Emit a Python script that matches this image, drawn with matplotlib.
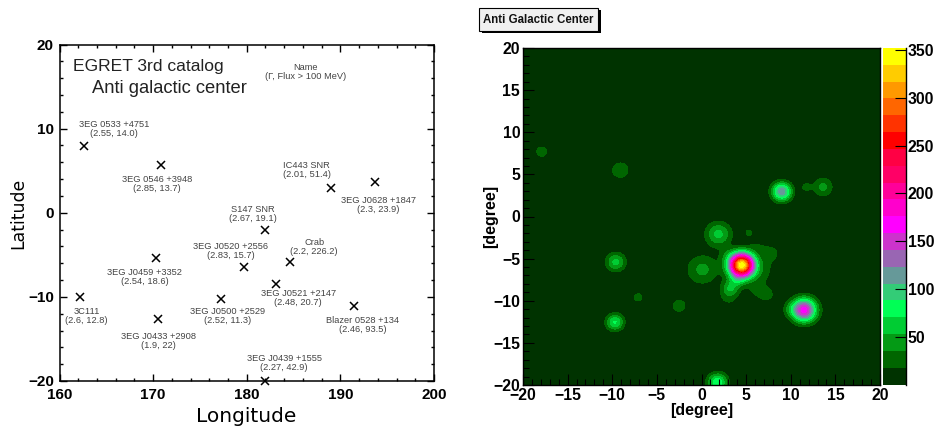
import numpy as np
import matplotlib
matplotlib.use("Agg")
import matplotlib.pyplot as plt
from matplotlib.patches import Rectangle
from matplotlib.ticker import MultipleLocator
from matplotlib.colors import ListedColormap, BoundaryNorm

W, H = 936, 428

# catalog points
names = ["3EG 0533 +4751", "3EG 0546 +3948", "IC443 SNR", "3EG J0628 +1847", "S147 SNR",
         "3EG J0520 +2556", "Crab", "3EG J0459 +3352", "3EG J0521 +2147", "3C111",
         "3EG J0500 +2529", "3EG J0433 +2908", "Blazer 0528 +134", "3EG J0439 +1555"]
params = ["(2.55, 14.0)", "(2.85, 13.7)", "(2.01, 51.4)", "(2.3, 23.9)", "(2.67, 19.1)",
          "(2.83, 15.7)", "(2.2, 226.2)", "(2.54, 18.6)", "(2.48, 20.7)", "(2.6, 12.8)",
          "(2.52, 11.3)", "(1.9, 22)", "(2.46, 93.5)", "(2.27, 42.9)"]
lon = [162.6, 170.8, 189.0, 193.7, 182.0, 179.7, 184.6, 170.3, 183.1, 162.2, 177.2, 170.5, 191.5, 182.0]
lat = [7.9, 5.7, 3.0, 3.6, -2.0, -6.4, -5.9, -5.4, -8.45, -10.0, -10.3, -12.6, -11.1, -20.0]
label_lon = [165.8, 170.4, 186.4, 194.06, 180.7, 178.3, 187.2, 169.06, 185.5, 162.9, 177.9, 170.6, 192.4, 184.0]
label_lat = [9.9, 3.45, 5.05, 0.93, -0.1, -4.5, -4.1, -7.6, -10.1, -12.3, -12.3, -15.2, -13.4, -17.9]

# map sources: centre, peak, width
src_x = [4.5, 3.2, 4.0, 1.9, 0.1, 11.5, 10.0, 9.0, 13.6, 11.7, -9.6, -9.7, -7.1, -2.5, -9.1, -17.9, -18.0, 1.8,
         7.9, 7.4, 5.3, 6.3, 6.2, 6.3, 3.0, 2.8, 7.0]
src_y = [-5.76, -8.5, -7.5, -2.1, -6.3, -11.1, -11.0, 2.95, 3.5, 3.5, -5.4, -12.55, -9.6, -10.6, 5.5, 7.7, -10.3, -19.7,
         -4.3, -9.3, -1.9, -7.5, -9.0, -3.5, -9.7, -4.5, -6.0]
src_peak = [345, 45, 30, 58, 40, 165, 20, 118, 40, 22, 58, 72, 19, 30, 32, 24, 18, 85,
            20, 20, 20, 14, 12, 14, 18, 14, 14]
src_sig = [0.95, 0.65, 0.6, 1.0, 1.25, 0.95, 0.6, 0.75, 0.8, 0.45, 0.76, 0.68, 1.1, 0.63, 0.78, 0.7, 0.2, 0.76,
           0.8, 0.6, 0.5, 1.2, 0.9, 0.8, 0.9, 0.6, 1.0]

band_colors = ["#003300", "#006600", "#049a15", "#00cc33", "#00ff55", "#33cc77", "#669999", "#9966b3",
               "#cc33cc", "#ff00ff", "#ff00cc", "#ff0099", "#ff0066", "#ff0044", "#ff0000", "#ff3300",
               "#ff6600", "#ff9900", "#ffcc00", "#ffff00"]
bar_ticks = [50, 100, 150, 200, 250, 300, 350]
level_top = 352

def box(l, t, r, b):
    return [l / W, 1 - b / H, (r - l) / W, (b - t) / H]

fig = plt.figure(figsize=(W / 100, H / 100), dpi=100)

# ---------- left panel
ax = fig.add_axes(box(59.5, 44.5, 434, 381))
ax.plot(lon, lat, ls="none", marker="x", color="black", ms=6, mew=1.1, clip_on=False, zorder=3)
ax.set_xlim(160, 200)
ax.set_ylim(-20, 20)
ax.xaxis.set_major_locator(MultipleLocator(10))
ax.yaxis.set_major_locator(MultipleLocator(10))
ax.xaxis.set_minor_locator(MultipleLocator(2))
ax.yaxis.set_minor_locator(MultipleLocator(2))
ax.tick_params(which="major", direction="in", top=True, right=True, length=5, width=1)
ax.tick_params(which="minor", direction="in", top=True, right=True, length=2.5, width=1)
ax.tick_params(axis="x", pad=5)
ax.tick_params(axis="y", pad=4)
for s in ax.spines.values():
    s.set_linewidth(1.1)
for t in ax.get_xticklabels() + ax.get_yticklabels():
    t.set_fontsize(11)
    t.set_fontweight("bold")
    t.set_family("Liberation Sans")
for n, p, x, y in zip(names, params, label_lon, label_lat):
    ax.text(x, y, n + "\n" + p, ha="center", va="center", fontsize=6.7, color="#444444",
            family="Liberation Sans", linespacing=1.0)
ax.text(186.3, 16.76, "Name\n(Γ, Flux > 100 MeV)", ha="center", va="center", fontsize=6.7,
        color="#444444", family="Liberation Sans", linespacing=1.0)
fig.text(73 / W, 1 - 66.7 / H, "EGRET 3rd catalog", fontsize=12.6, family="Liberation Sans",
         va="center", color="#222222")
fig.text(92 / W, 1 - 88.5 / H, "Anti galactic center", fontsize=13.2, family="Liberation Sans",
         va="center", color="#222222")
fig.text(246 / W, 1 - 417 / H, "Longitude", fontsize=14.5, ha="center", va="center", family="DejaVu Sans")
fig.text(18 / W, 1 - 213 / H, "Latitude", fontsize=12.4, rotation=90, ha="center", va="center", family="DejaVu Sans")

# ---------- right panel
ax2 = fig.add_axes(box(523, 48, 880, 385))
gx = np.linspace(-20, 20, 321)
gy = np.linspace(-20, 20, 321)
X, Y = np.meshgrid(gx, gy)
Z = np.zeros_like(X)
for x0, y0, a, s in zip(src_x, src_y, src_peak, src_sig):
    Z += a * np.exp(-((X - x0) ** 2 + (Y - y0) ** 2) / (2 * s ** 2))
levels = np.linspace(0, level_top, len(band_colors) + 1)
cmap = ListedColormap(band_colors)
norm = BoundaryNorm(levels, cmap.N)
ax2.contourf(X, Y, np.clip(Z, 0, level_top - 0.01), levels=levels, cmap=cmap, norm=norm)
ax2.set_xlim(-20, 20)
ax2.set_ylim(-20, 20)
ax2.xaxis.set_major_locator(MultipleLocator(5))
ax2.yaxis.set_major_locator(MultipleLocator(5))
ax2.xaxis.set_minor_locator(MultipleLocator(1))
ax2.yaxis.set_minor_locator(MultipleLocator(1))
ax2.tick_params(which="major", direction="in", length=8, width=0.8, pad=2)
ax2.tick_params(which="minor", direction="in", length=4, width=0.8)
for t in ax2.get_xticklabels() + ax2.get_yticklabels():
    t.set_fontsize(11.3)
    t.set_fontweight("bold")
    t.set_family("Liberation Sans")
for s in ax2.spines.values():
    s.set_linewidth(1.0)
fig.text(702 / W, 1 - 410 / H, "[degree]", fontsize=11.5, fontweight="bold", ha="center", va="center",
         family="Liberation Sans")
fig.text(491 / W, 1 - 216 / H, "[degree]", fontsize=11.5, fontweight="bold", rotation=90, ha="center",
         va="center", family="Liberation Sans")

# ---------- colour bar
cax = fig.add_axes(box(883, 48, 905.5, 384.5))
for i, c in enumerate(band_colors):
    cax.barh(levels[i], 1, height=levels[i + 1] - levels[i], align="edge", color=c, lw=0)
cax.set_xlim(0, 1)
cax.set_ylim(0, level_top)
cax.set_xticks([])
cax.yaxis.tick_right()
cax.set_yticks(bar_ticks)
cax.tick_params(axis="y", direction="in", length=8, width=0.8, pad=1.5)
for t in cax.get_yticklabels():
    t.set_fontsize(11.3)
    t.set_fontweight("bold")
    t.set_family("Liberation Sans")
for k, s in cax.spines.items():
    s.set_visible(k == "right")
    s.set_linewidth(1.0)

# ---------- title box
fig.add_artist(Rectangle((482 / W, 1 - 33 / H), 118.5 / W, 23 / H, transform=fig.transFigure,
                         fc="black", ec="none"))
fig.add_artist(Rectangle((479.5 / W, 1 - 30.5 / H), 118 / W, 22.5 / H, transform=fig.transFigure,
                         fc="#f0f0f0", ec="black", lw=0.8))
fig.text(538 / W, 1 - 20 / H, "Anti Galactic Center", fontsize=8.3, fontweight="bold", ha="center",
         va="center", family="Liberation Sans", color="#111111")

fig.savefig("out.png", dpi=100)
